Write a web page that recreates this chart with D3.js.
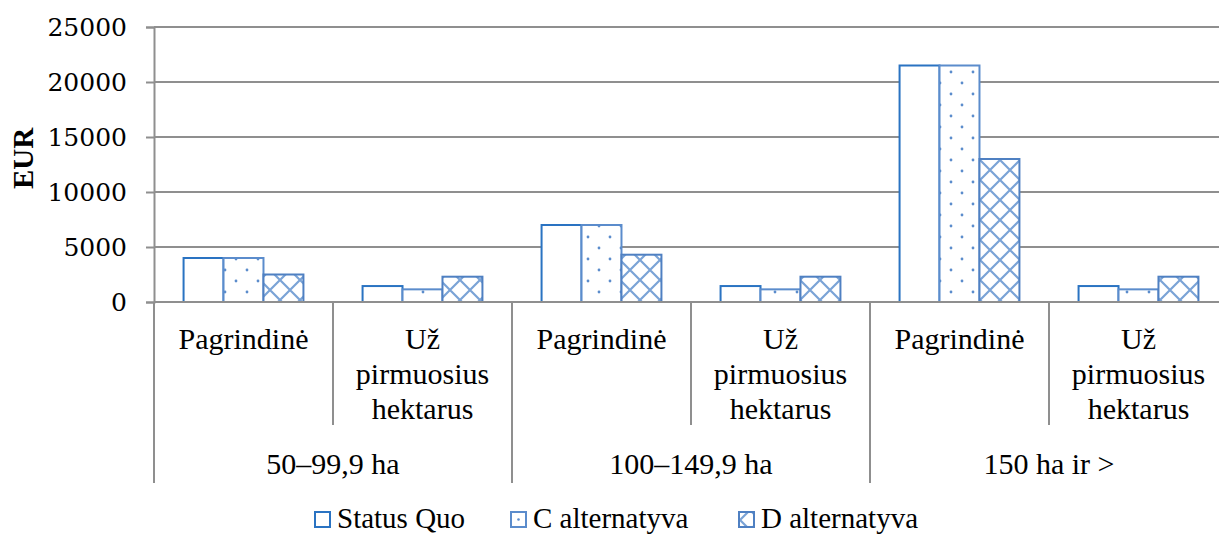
<!DOCTYPE html>
<html>
<head>
<meta charset="utf-8">
<script src="https://cdn.jsdelivr.net/npm/d3@7"></script>
<style>
  html, body { margin: 0; padding: 0; background: #fff; }
  svg { display: block; font-family: "Liberation Serif", serif; }
</style>
</head>
<body>
<svg id="chart" width="1219" height="534"></svg>
<script>
// Payment groups (farm size) and payment types within each group
const groups = ["50–99,9 ha", "100–149,9 ha", "150 ha ir >"];
const subTypes = ["Pagrindinė", "Už pirmuosius hektarus"];
const subLabelLines = { "Pagrindinė": ["Pagrindinė"], "Už pirmuosius hektarus": ["Už", "pirmuosius", "hektarus"] };
const seriesNames = ["Status Quo", "C alternatyva", "D alternatyva"];

// Values in EUR, one array per scenario, ordered group by group (Pagrindinė, Už pirmuosius hektarus)
const statusQuo   = [4000, 1450, 7000, 1450, 21500, 1450];
const cAlt        = [4000, 1150, 7000, 1150, 21500, 1150];
const dAlt        = [2500, 2300, 4300, 2300, 13000, 2300];

const yTicks = [0, 5000, 10000, 15000, 20000, 25000];

const svg = d3.select("#chart");

// Fill patterns
const defs = svg.append("defs");
const dots = defs.append("pattern").attr("id", "dots")
  .attr("patternUnits", "userSpaceOnUse").attr("width", 22).attr("height", 22);
dots.append("rect").attr("width", 22).attr("height", 22).attr("fill", "#fff");
[[5, 6], [16, 17]].forEach(([cx, cy]) =>
  dots.append("circle").attr("cx", cx).attr("cy", cy).attr("r", 1.4).attr("fill", "#5b8ccc"));

const hatch = defs.append("pattern").attr("id", "hatch")
  .attr("patternUnits", "userSpaceOnUse").attr("width", 20).attr("height", 20);
hatch.append("rect").attr("width", 20).attr("height", 20).attr("fill", "#fff");
hatch.append("path").attr("d", "M0,0 L20,20 M20,0 L0,20 M-10,10 L10,30 M10,-10 L30,10 M10,-10 L-10,10 M30,10 L10,30")
  .attr("stroke", "#7aa3d6").attr("stroke-width", 2.2).attr("fill", "none");

const fills = ["#fff", "url(#dots)", "url(#hatch)"];
const strokes = ["#2a73c2", "#5b8ccc", "#4f80c2"];

// Layout
const plotLeft = 154, plotRight = 1228, yTop = 27, yBase = 302;
const cells = [];
groups.forEach((g, gi) => subTypes.forEach((s, si) => cells.push({ key: gi + "|" + si, group: g, sub: s, idx: gi * 2 + si })));

const x = d3.scaleBand().domain(cells.map(d => d.key)).range([plotLeft, plotRight]).paddingInner(0).paddingOuter(0);
const xInner = d3.scaleBand().domain(seriesNames).range([0, x.bandwidth()]).paddingInner(0).paddingOuter(0.74);
const y = d3.scaleLinear().domain([0, 25000]).range([yBase, yTop]);

const gridColor = "#8f8f8f";

// Horizontal gridlines
svg.append("g").selectAll("line").data(yTicks.filter(t => t > 0)).join("line")
  .attr("x1", plotLeft).attr("x2", plotRight)
  .attr("y1", d => y(d)).attr("y2", d => y(d))
  .attr("stroke", gridColor).attr("stroke-width", 2);

// Y axis
const yAxis = svg.append("g").attr("transform", `translate(${plotLeft},0)`)
  .call(d3.axisLeft(y).tickValues(yTicks).tickSize(8).tickPadding(19).tickFormat(d3.format("d")));
yAxis.select(".domain").attr("stroke", gridColor).attr("stroke-width", 2);
yAxis.selectAll(".tick line").attr("stroke", gridColor).attr("stroke-width", 2);
yAxis.selectAll(".tick text").attr("font-family", "DejaVu Serif, serif").attr("font-size", 25).attr("fill", "#000");

// Y axis title
svg.append("text").attr("transform", "translate(33,158.5) rotate(-90)")
  .attr("text-anchor", "middle").attr("font-size", 29).attr("font-weight", "bold").text("EUR");

// Bars
const series = [statusQuo, cAlt, dAlt];
series.forEach((vals, si) => {
  svg.append("g").selectAll("rect").data(cells).join("rect")
    .attr("x", d => x(d.key) + xInner(seriesNames[si]))
    .attr("y", d => y(vals[d.idx]))
    .attr("width", xInner.bandwidth())
    .attr("height", d => yBase - y(vals[d.idx]))
    .attr("fill", fills[si])
    .attr("stroke", strokes[si]).attr("stroke-width", 2);
});

// Category axis: baseline and dividers
svg.append("line").attr("x1", plotLeft).attr("x2", plotRight).attr("y1", yBase).attr("y2", yBase)
  .attr("stroke", gridColor).attr("stroke-width", 2);
const dividers = d3.range(cells.length + 1).map(i => ({ pos: plotLeft + i * x.step(), major: i % 2 === 0 }));
svg.append("g").selectAll("line").data(dividers).join("line")
  .attr("x1", d => d.pos).attr("x2", d => d.pos)
  .attr("y1", yBase).attr("y2", d => d.major ? 483 : 425)
  .attr("stroke", gridColor).attr("stroke-width", 2);

// Sub-category labels
const subG = svg.append("g").attr("font-size", 30).attr("text-anchor", "middle");
cells.forEach(d => {
  const lines = subLabelLines[d.sub];
  const t = subG.append("text").attr("x", x(d.key) + x.bandwidth() / 2).attr("y", 349);
  lines.forEach((ln, i) => t.append("tspan")
    .attr("x", x(d.key) + x.bandwidth() / 2).attr("dy", i === 0 ? 0 : 35).text(ln));
});

// Group labels
svg.append("g").attr("font-size", 30).attr("text-anchor", "middle")
  .selectAll("text").data(groups).join("text")
  .attr("x", (d, i) => plotLeft + (i * 2 + 1) * x.step())
  .attr("y", 474).text(d => d);

// Legend
const legendX = [314, 510, 738];
const legend = svg.append("g");
seriesNames.forEach((name, i) => {
  legend.append("rect").attr("x", legendX[i] + 1).attr("y", 512).attr("width", 15).attr("height", 15)
    .attr("fill", i === 2 ? "url(#hatch)" : "#fff")
    .attr("stroke", strokes[i]).attr("stroke-width", 2);
  if (i === 1) legend.append("circle").attr("cx", legendX[i] + 8.5).attr("cy", 519.5).attr("r", 1.3).attr("fill", "#5b8ccc");
  legend.append("text").attr("x", legendX[i] + 23).attr("y", 528).attr("font-size", 29).text(name);
});
</script>
</body>
</html>
